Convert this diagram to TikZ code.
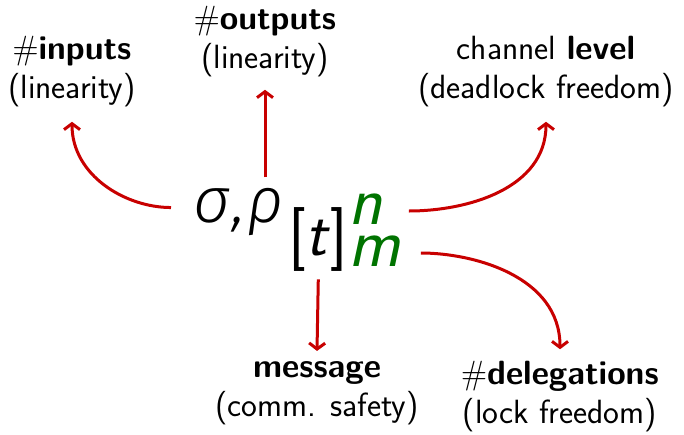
\documentclass[tikz,border=0pt]{standalone}
\usepackage{fontspec}
\newfontfamily\grkfont{Fira Sans}[UprightFont=* Light, ItalicFont=* Light Italic]
\usetikzlibrary{arrows.meta}
\definecolor{arrred}{RGB}{200,0,0}
\definecolor{idxgreen}{RGB}{0,115,0}
\begin{document}
\begin{tikzpicture}[x=0.5pt,y=-0.5pt,
  lab/.style={font=\sffamily\fontsize{16.8}{19.5}\selectfont,align=center,inner sep=0pt},
  big/.style={inner sep=0pt,font=\fontsize{32}{32}\selectfont},
  arr/.style={draw=arrred,line width=1.5pt,-{Straight Barb[length=3pt,width=8pt]}}]
\useasboundingbox (0,0) rectangle (684,434);
\node[lab] (inp) at (72,72) {$\#$\textbf{inputs}\\(linearity)};
\node[lab] (out) at (265,42) {$\#$\textbf{outputs}\\(linearity)};
\node[lab] (lev) at (546,72) {channel \textbf{level}\\(deadlock freedom)};
\node[lab] (msg) at (317,393) {\textbf{message}\\(comm. safety)};
\node[lab] (del) at (560,397) {$\#$\textbf{delegations}\\(lock freedom)};
\node[big,anchor=base west] (sig) at (193,222) {\grkfont\itshape σ\kern1pt,\kern1pt ρ};
\node[big,anchor=base west] (tb) at (288,255) {\sffamily[\textit{t}]};
\node[inner sep=0pt,anchor=north west,text=idxgreen,align=left,
  font=\sffamily\itshape\fontsize{35}{21}\selectfont] (nm) at (348,193) {n\\m};
\coordinate (nme) at ([yshift=-9pt]nm.north east);
\coordinate (mme) at ([yshift=-30pt]nm.north east);
\draw[arr,shorten <=4pt] (sig.west) ++(-7pt,2pt) to[out=180,in=-90] ([yshift=-7pt]inp.south);
\draw[arr,shorten <=5pt] (sig.north -| out.south) -- ([yshift=-6pt]out.south);
\draw[arr,shorten <=4pt] (nme) to[out=0,in=-90] ([yshift=-7pt]lev.south);
\draw[arr,shorten <=10pt] (mme) to[out=0,in=90] ([yshift=6pt]del.north);
\draw[arr] ([yshift=-4pt]tb.south) -- ([yshift=5pt]msg.north);
\end{tikzpicture}
\end{document}
